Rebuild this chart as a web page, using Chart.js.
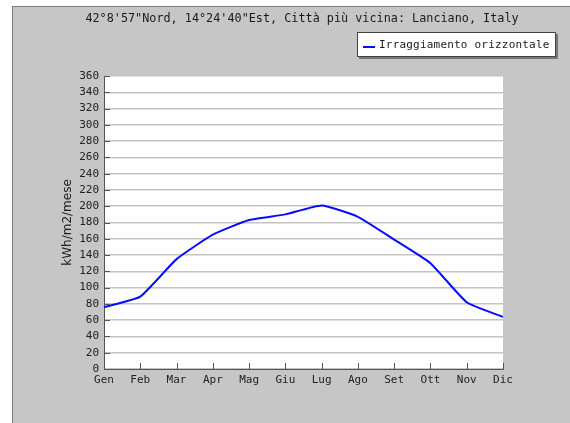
<!DOCTYPE html>
<html>
<head>
<meta charset="utf-8">
<script src="https://cdn.jsdelivr.net/npm/chart.js@4"></script>
<style>
  html, body { margin: 0; padding: 0; background: #fff; overflow: hidden; }
  #panel { position: absolute; left: 12px; top: 6px; width: 570px; height: 430px;
           background: #c6c6c6; border-left: 1px solid #7c7c7c; border-top: 1px solid #7c7c7c; }
  #wrap { position: absolute; left: 0; top: 0; width: 570px; height: 423px; }
  #title { position: absolute; left: 302px; top: 11px; transform: translateX(-50%);
           white-space: nowrap; font: 11.8px "DejaVu Sans Mono", monospace; color: #1a1a1a; }
  #legend { position: absolute; left: 357px; top: 32px; width: 199px; height: 25px;
            background: #fff; border: 1px solid #444; box-shadow: 2px 2px 0 #777;
            font: 11px "DejaVu Sans Mono", monospace; color: #1a1a1a; letter-spacing: 0.2px;
            display: flex; align-items: center; box-sizing: border-box; padding-left: 5px; }
  #legend .swatch { display: inline-block; width: 12px; height: 2px; margin-right: 4px; margin-top: 4px; }
</style>
</head>
<body>
<div id="panel"></div>
<div id="wrap"><canvas id="chart" width="570" height="423"></canvas></div>
<div id="title"></div>
<div id="legend"></div>
<script>
const titleText = "42°8'57\"Nord, 14°24'40\"Est, Città più vicina: Lanciano, Italy";
const months = ["Gen", "Feb", "Mar", "Apr", "Mag", "Giu", "Lug", "Ago", "Set", "Ott", "Nov", "Dic"];
const irraggiamento = [76, 89, 135, 165, 183, 190, 201, 187, 159, 130, 82, 64];
const seriesLabel = "Irraggiamento orizzontale";
const yTitle = "kWh/m2/mese";
const lineColor = "#0a0aff";

document.getElementById("title").textContent = titleText;

// legend built from the series
const legend = document.getElementById("legend");
const swatch = document.createElement("span");
swatch.className = "swatch";
swatch.style.background = lineColor;
legend.appendChild(swatch);
legend.appendChild(document.createTextNode(seriesLabel));

// white plot background + short dark tick marks inside the plot
const plotDecor = {
    id: "plotDecor",
    beforeDraw(chart) {
        const a = chart.chartArea;
        const ctx = chart.ctx;
        ctx.save();
        ctx.fillStyle = "#ffffff";
        ctx.fillRect(a.left, a.top, a.right - a.left, a.bottom - a.top);
        ctx.restore();
    },
    afterDatasetsDraw(chart) {
        const a = chart.chartArea;
        const ctx = chart.ctx;
        const ys = chart.scales.y, xs = chart.scales.x;
        ctx.save();
        ctx.strokeStyle = "#555";
        ctx.lineWidth = 1;
        ctx.beginPath();
        ys.ticks.forEach((t, i) => {
            const py = Math.round(ys.getPixelForTick(i)) + 0.5;
            ctx.moveTo(a.left, py);
            ctx.lineTo(a.left + 6, py);
        });
        xs.ticks.forEach((t, i) => {
            const px = Math.round(xs.getPixelForTick(i)) + 0.5;
            ctx.moveTo(px, a.bottom);
            ctx.lineTo(px, a.bottom - 6);
        });
        ctx.stroke();
        ctx.restore();
    }
};

new Chart(document.getElementById("chart"), {
    type: "line",
    data: {
        labels: months,
        datasets: [{
            label: seriesLabel,
            data: irraggiamento,
            borderColor: lineColor,
            borderWidth: 2,
            pointRadius: 0,
            tension: 0.15,
            fill: false
        }]
    },
    options: {
        responsive: false,
        animation: false,
        layout: { padding: { left: 57, top: 76, right: 67, bottom: 20 } },
        plugins: {
            legend: { display: false },
            title: { display: false },
            tooltip: { enabled: false }
        },
        scales: {
            x: {
                afterFit: s => { s.height = 34; },
                grid: { display: false, drawTicks: false },
                border: { display: true, color: "#555", width: 1 },
                ticks: { color: "#222", padding: 5, maxRotation: 0, autoSkip: false,
                         font: { family: "DejaVu Sans Mono", size: 11 } }
            },
            y: {
                min: 0,
                max: 360,
                afterFit: s => { s.width = 47; },
                grid: { color: "#c4c4c4", lineWidth: 1.5, drawTicks: false },
                border: { display: true, color: "#555", width: 1 },
                ticks: { stepSize: 20, color: "#222", padding: 5,
                         font: { family: "DejaVu Sans Mono", size: 11 } },
                title: { display: true, text: yTitle, color: "#222",
                         font: { family: "DejaVu Sans", size: 12 } }
            }
        }
    },
    plugins: [plotDecor]
});
</script>
</body>
</html>
